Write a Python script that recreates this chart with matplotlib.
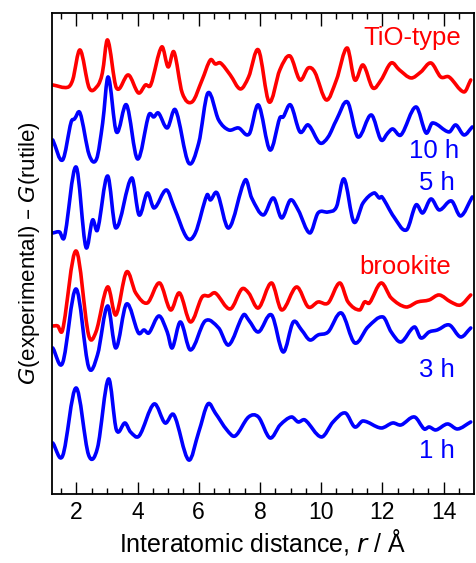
import numpy as np
import matplotlib
matplotlib.use('Agg')
import matplotlib.pyplot as plt
from matplotlib.path import Path
from matplotlib.patches import PathPatch

plt.rcParams['font.family'] = ['Liberation Sans', 'DejaVu Sans']

# G(experimental) - G(rutile), arbitrary units
r_tio = [1.23, 1.72, 1.88, 2.12, 2.42, 2.69, 2.85, 3.02, 3.31, 3.70, 4.03, 4.26, 4.43, 4.79, 5.0, 5.19,
         5.46, 5.78, 6.11, 6.38, 6.54, 6.71, 7.03, 7.36, 7.63, 7.95, 8.30, 8.65, 8.98, 9.31, 9.58, 9.79,
         10.17, 10.5, 10.85, 11.1, 11.37, 11.69, 11.96, 12.29, 12.56, 12.94, 13.26, 13.59, 13.91, 14.18,
         14.67, 14.89]
g_tio = [0.0, -0.23, 0.5, 3.5, -0.3, -0.1, 1.2, 4.5, -0.3, 1.0, -0.8, 0.0, 0.0, 3.8, 1.8, 3.3,
         -0.8, -1.7, 0.5, 2.5, 2.1, 2.2, 1.0, -0.4, 0.8, 3.5, -1.7, 1.5, 2.9, 0.5, 1.7, 1.3,
         -1.5, 0.5, 3.7, 0.5, 2.0, -0.3, 0.5, 2.2, 1.5, 0.7, 1.3, 2.2, 0.8, 0.8,
         -0.7, 0.5]

r_10h = [1.23, 1.55, 1.83, 1.94, 2.12, 2.42, 2.66, 2.86, 3.04, 3.31, 3.64, 4.0, 4.37, 4.53, 4.68, 4.97,
         5.24, 5.67, 6.0, 6.3, 6.65, 6.98, 7.3, 7.65, 7.95, 8.33, 8.65, 8.76, 9.0, 9.31, 9.58, 9.96,
         10.23, 10.5, 10.86, 11.2, 11.64, 11.96, 12.18, 12.34, 12.61, 13.1, 13.43, 13.64, 14.18, 14.4,
         14.67, 14.94]
g_10h = [0.0, -2.0, 1.8, 2.1, 2.7, -1.5, -1.9, 1.7, 6.3, 0.8, 3.5, -1.9, 2.5, 2.3, 2.7, 1.2,
         3.0, -2.3, -0.3, 4.7, 2.0, 1.0, 1.2, 0.6, 3.5, -1.0, 2.2, 2.3, 3.5, 0.8, 1.5, -0.3,
         0.3, 2.0, 3.8, 0.3, 2.5, 0.0, 0.7, 1.1, 0.5, 3.3, 0.7, 1.7, 0.8, 1.5,
         0.5, 1.3]

r_5h = [1.23, 1.45, 1.61, 1.99, 2.31, 2.53, 2.69, 3.02, 3.29, 3.81, 4.05, 4.32, 4.54, 4.94, 5.19, 5.62,
        5.89, 6.27, 6.38, 6.6, 6.98, 7.52, 7.73, 8.11, 8.44, 8.71, 9.0, 9.25, 9.63, 9.9, 10.23, 10.5,
        10.75, 11.07, 11.37, 11.73, 11.9, 11.99, 12.38, 12.79, 13.1, 13.32, 13.59, 13.86, 14.26, 14.56,
        14.94]
g_5h = [0.0, 0.1, -0.4, 6.6, -1.4, 1.3, 0.3, 5.7, 0.5, 5.5, 1.8, 4.0, 2.5, 4.3, 2.6, -0.5,
        0.0, 3.8, 3.3, 4.0, 0.5, 5.3, 3.5, 1.8, 3.5, 1.5, 3.3, 2.3, 0.0, 2.0, 2.1, 2.6,
        5.4, 1.1, 3.0, 4.0, 3.5, 3.6, 1.6, 0.3, 2.8, 2.0, 3.4, 2.3, 3.2, 1.7,
        3.6]

r_brk = [1.23, 1.39, 1.55, 1.99, 2.4, 2.64, 3.02, 3.29, 3.64, 3.94, 4.32, 4.72, 5.08, 5.37, 5.73, 6.11,
         6.33, 6.54, 7.03, 7.41, 7.63, 7.95, 8.38, 8.71, 9.2, 9.58, 9.9, 10.23, 10.61, 10.88, 11.26, 11.42,
         11.58, 11.96, 12.29, 12.77, 13.15, 13.53, 13.86, 14.24, 14.56, 14.89]
g_brk = [0.0, 0.0, -0.4, 7.5, -0.9, -0.6, 3.9, 1.1, 5.4, 3.3, 2.3, 4.3, 1.6, 3.3, 0.4, 2.9,
         3.0, 3.3, 1.7, 3.7, 3.3, 1.8, 4.3, 1.6, 3.9, 1.9, 2.4, 2.3, 4.3, 2.4, 1.6, 2.4,
         2.3, 4.3, 2.8, 1.9, 2.4, 2.6, 3.1, 2.4, 2.1, 3.1]

r_3h = [1.23, 1.55, 1.99, 2.4, 2.69, 3.02, 3.29, 3.64, 4.03, 4.21, 4.37, 4.7, 4.97, 5.13, 5.4, 5.73,
        6.21, 6.65, 6.98, 7.46, 7.63, 7.95, 8.38, 8.76, 9.09, 9.36, 9.63, 9.9, 10.23, 10.66, 11.1, 11.53,
        12.02, 12.29, 12.61, 13.05, 13.26, 13.53, 13.8, 14.19, 14.56, 14.89]
g_3h = [0.0, -1.5, 5.9, -1.9, -0.7, 4.2, 0.0, 4.4, 1.5, 1.8, 1.5, 3.2, 1.6, 0.0, 2.6, -0.2,
        2.7, 2.0, 0.3, 3.3, 2.8, 1.6, 3.3, -0.4, 2.6, 1.8, 0.8, 1.3, 1.6, 3.5, 0.5, 2.1,
        3.1, 1.6, 0.6, 2.1, 1.0, 1.6, 1.8, 2.3, 1.1, 2.0]

r_1h = [1.23, 1.55, 1.99, 2.4, 2.69, 3.05, 3.31, 3.59, 3.77, 4.05, 4.54, 4.9, 5.19, 5.67, 6.0, 6.3,
        6.54, 6.92, 7.19, 7.63, 7.95, 8.33, 8.66, 9.03, 9.25, 9.47, 10.01, 10.39, 10.79, 11.1, 11.37, 11.96,
        12.34, 12.61, 13.05, 13.37, 13.53, 13.75, 14.13, 14.46, 14.89]
g_1h = [0.0, -1.3, 5.5, -1.2, -0.5, 6.4, 1.3, 2.0, 1.1, 0.7, 3.9, 2.0, 2.8, -1.7, 1.1, 3.9,
        3.0, 1.3, 0.7, 2.6, 2.6, 0.5, 1.8, 2.6, 2.1, 2.3, 0.6, 2.1, 3.0, 1.6, 2.2, 1.5,
        2.0, 1.8, 2.6, 1.4, 1.6, 1.3, 1.9, 1.4, 2.1]

# vertical offsets of the stacked curves
offsets = [40.9, 35.4, 26.1, 16.8, 14.6, 5.1]
labels = ['TiO-type', '10 h', '5 h', 'brookite', '3 h', '1 h']
colors = ['#ff0000', '#0000ff', '#0000ff', '#ff0000', '#0000ff', '#0000ff']


def smooth_path(x, y):
    # cubic Hermite segments through the read points, drawn as Bezier curves
    x = np.asarray(x, float)
    y = np.asarray(y, float)
    n = len(x)
    m = np.zeros(n)
    m[1:-1] = (y[2:] - y[:-2]) / (x[2:] - x[:-2])
    m[0] = (y[1] - y[0]) / (x[1] - x[0])
    m[-1] = (y[-1] - y[-2]) / (x[-1] - x[-2])
    verts = [(x[0], y[0])]
    codes = [Path.MOVETO]
    for i in range(n - 1):
        h = x[i + 1] - x[i]
        verts += [(x[i] + h / 3, y[i] + m[i] * h / 3),
                  (x[i + 1] - h / 3, y[i + 1] - m[i + 1] * h / 3),
                  (x[i + 1], y[i + 1])]
        codes += [Path.CURVE4] * 3
    return Path(verts, codes)


fig = plt.figure(figsize=(4.76, 5.63), dpi=100)
ax = fig.add_axes([0.109, 0.1226, 0.887, 0.8544])

curves = [(r_tio, g_tio), (r_10h, g_10h), (r_5h, g_5h), (r_brk, g_brk), (r_3h, g_3h), (r_1h, g_1h)]
for (r, g), off, c in zip(curves, offsets, colors):
    p = smooth_path(r, np.array(g) + off)
    ax.add_patch(PathPatch(p, fill=False, ec=c, lw=2.6, capstyle='round', joinstyle='round'))

# curve labels
lab_pos = [(14.58, 45.6), (14.52, 34.3), (14.38, 31.1), (14.25, 22.7), (14.38, 12.4), (14.38, 4.3)]
for (x, y), txt, c in zip(lab_pos, labels, colors):
    ax.text(x, y, txt, color=c, fontsize=18.5, ha='right', va='center')

ax.set_xlim(1.2, 15)
ax.set_ylim(0, 48.1)
ax.set_xticks(np.arange(2, 15, 2))
ax.set_xticks(np.arange(1.5, 15, 0.5), minor=True)
ax.set_yticks([])
ax.tick_params(axis='x', which='both', direction='in', top=True, bottom=True, labelsize=16.5, width=1.0)
ax.tick_params(axis='x', which='major', length=9, pad=5)
ax.tick_params(axis='x', which='minor', length=4.5)
for s in ax.spines.values():
    s.set_linewidth(1.3)

ax.set_xlabel('Interatomic distance, $\\it{r}$ / Å', fontsize=18, labelpad=2)
ax.set_ylabel('$\\it{G}$(experimental) – $\\it{G}$(rutile)', fontsize=16, labelpad=7)

fig.savefig('out.png', dpi=100)
